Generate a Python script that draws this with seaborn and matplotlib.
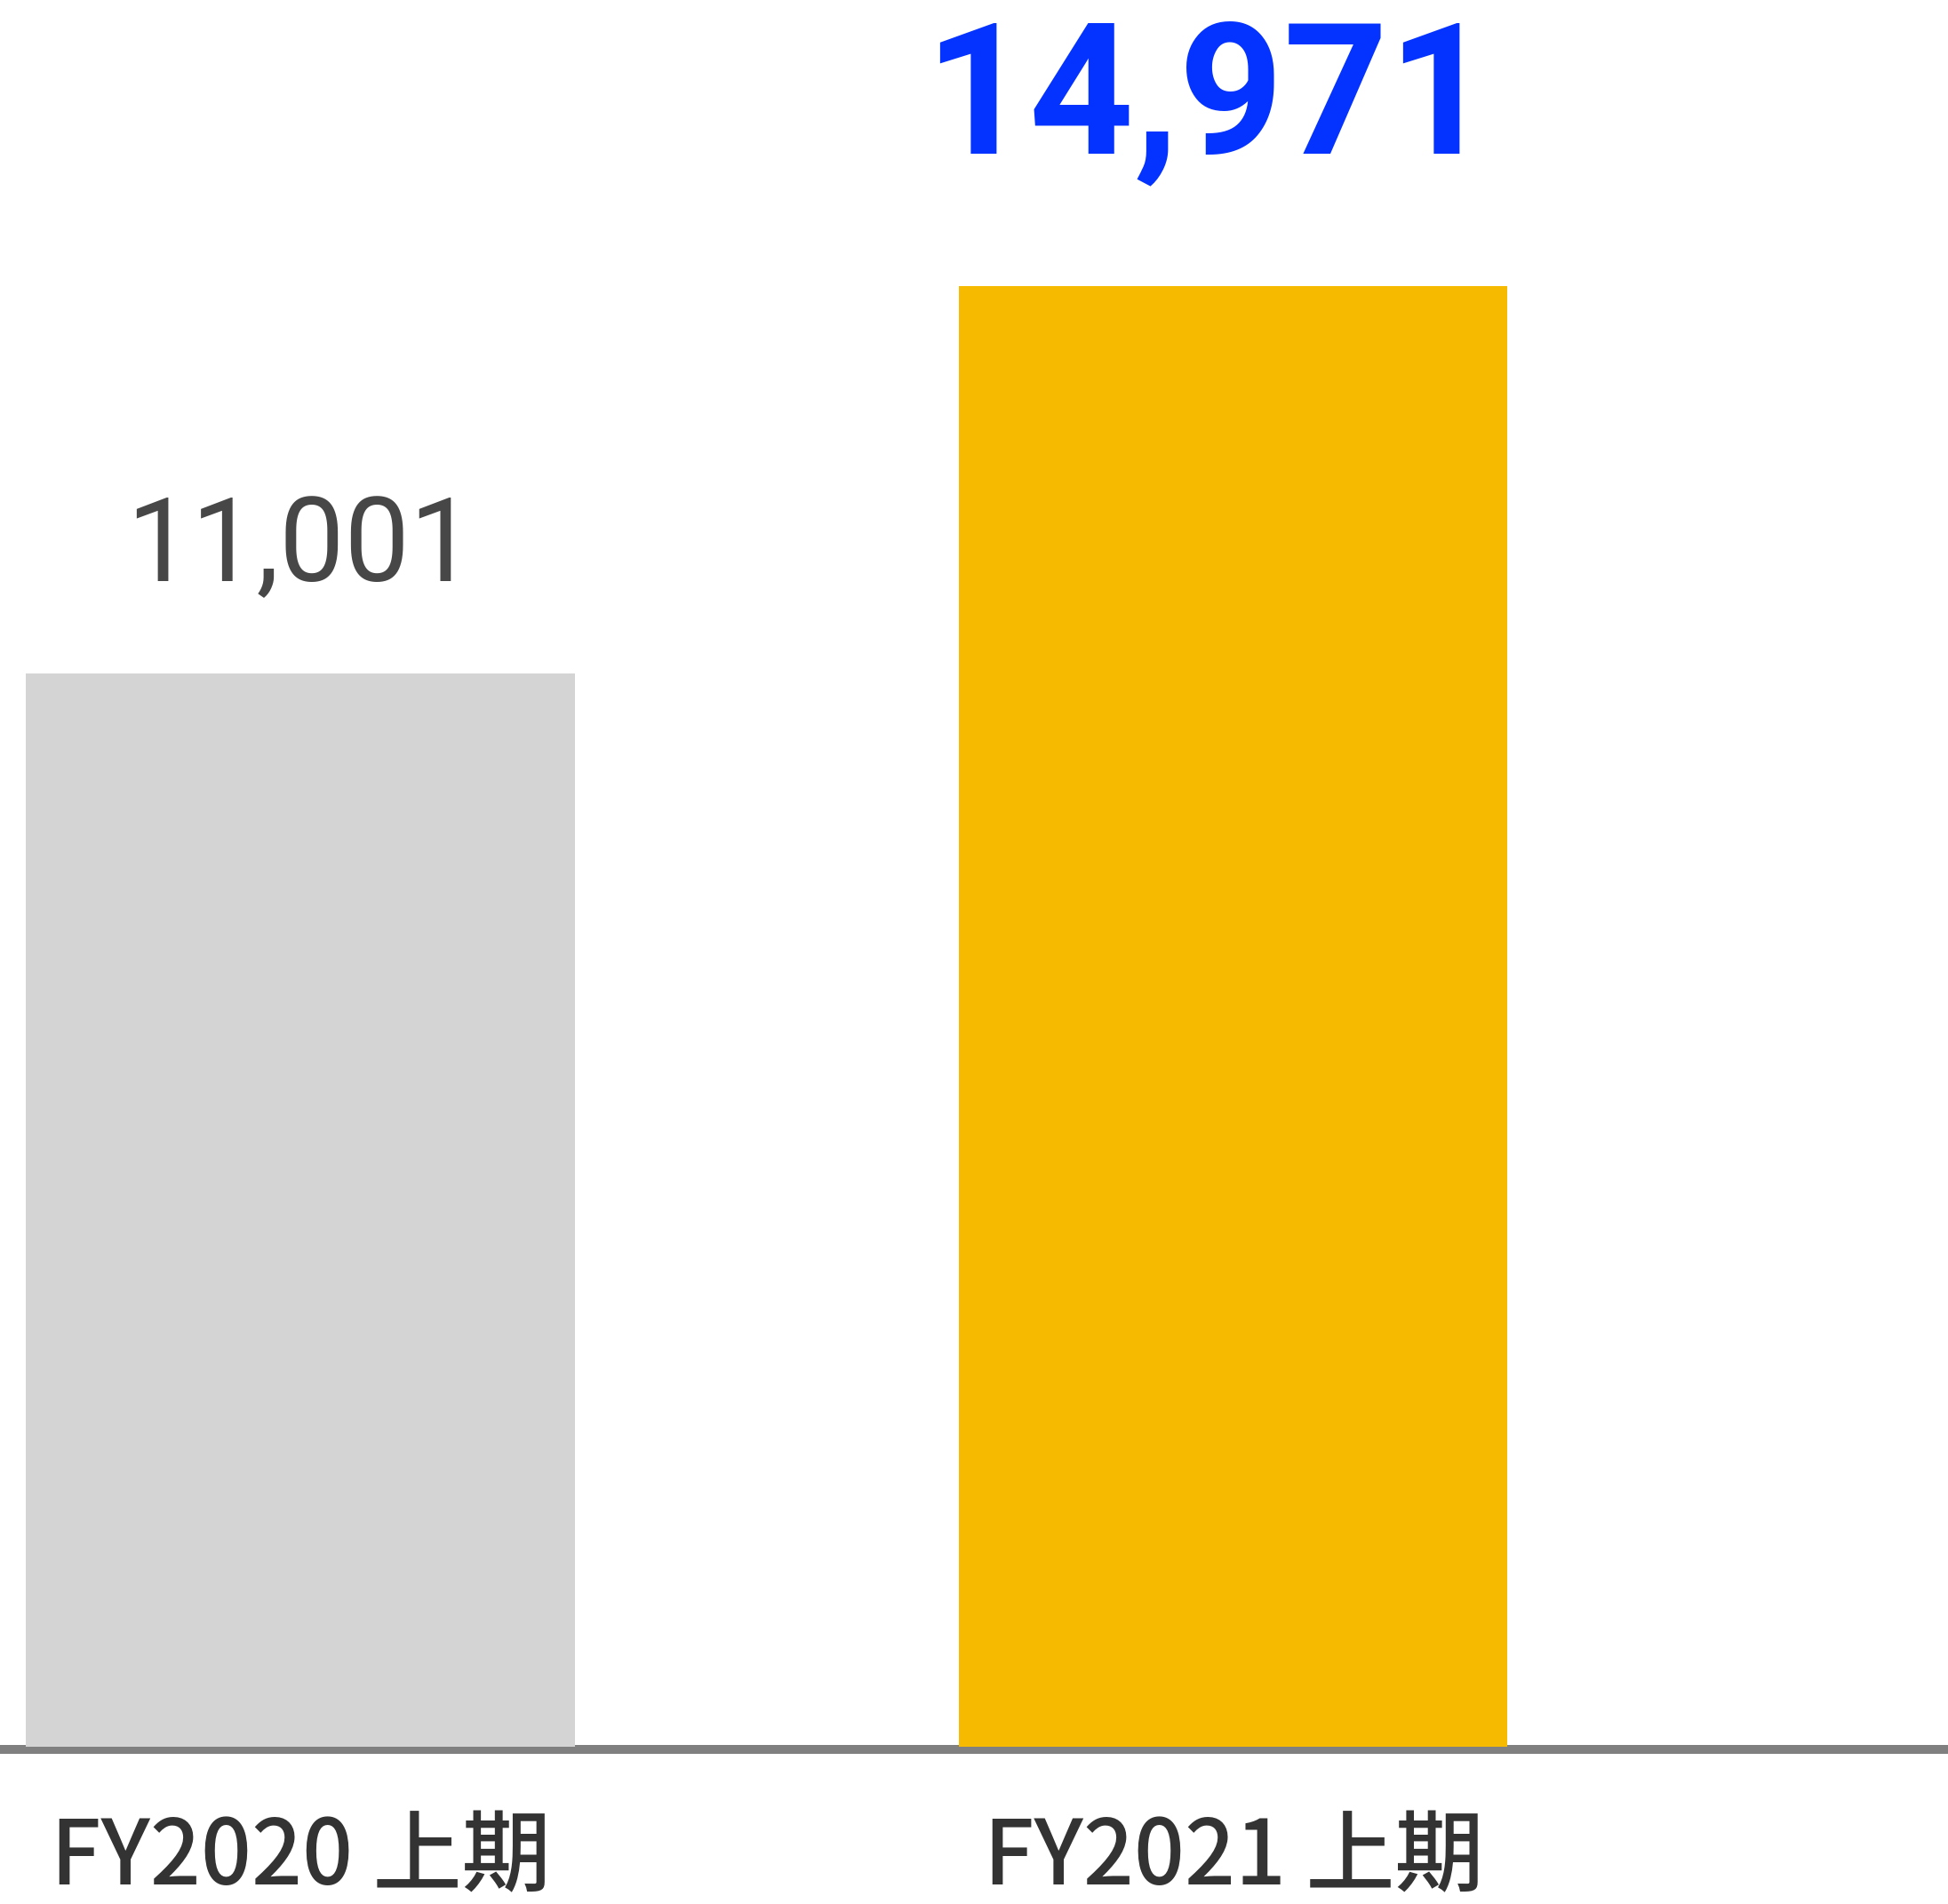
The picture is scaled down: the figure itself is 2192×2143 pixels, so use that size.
import matplotlib
matplotlib.use("Agg")
import matplotlib.pyplot as plt
import seaborn as sns
import pandas as pd

periods = ["FY2020 上期", "FY2021 上期"]
values = [11001, 14971]
bar_colors = ["#D4D4D4", "#F6BB00"]
label_colors = ["#474747", "#0433FF"]

df = pd.DataFrame({"period": periods, "value": values})

sns.set_theme(style="white")
plt.rcParams["font.family"] = ["Noto Sans CJK JP", "DejaVu Sans"]

fig = plt.figure(figsize=(21.92, 21.43), dpi=100)
ax = fig.add_axes([0, 0.0826, 1, 0.9174])

sns.barplot(data=df, x="period", y="value", hue="period",
            palette=bar_colors, width=0.588, legend=False, ax=ax,
            saturation=1, linewidth=0, zorder=2)

ax.axhline(-25, color="#808080", lw=7.2, zorder=1, clip_on=False)
ax.set_xlim(-0.322, 1.766)
ax.set_ylim(0, 17905)

for spine in ax.spines.values():
    spine.set_visible(False)
ax.set_yticks([])
ax.set_xlabel("")
ax.set_ylabel("")
ax.tick_params(axis="x", length=0, pad=54, labelsize=72, labelcolor="#333333")
for lbl in ax.get_xticklabels():
    lbl.set_fontweight("medium")

# value labels
sizes = [94, 148]
weights = ["normal", "bold"]
offsets = [(0, 75), (-20, 108)]
for i, v in enumerate(values):
    ax.annotate(f"{v:,}", (i, v), xytext=offsets[i],
                textcoords="offset points", ha="center", va="baseline",
                fontsize=sizes[i], fontweight=weights[i],
                color=label_colors[i], family=["Roboto", "DejaVu Sans"])

plt.savefig("out.png", dpi=100)
plt.close()
